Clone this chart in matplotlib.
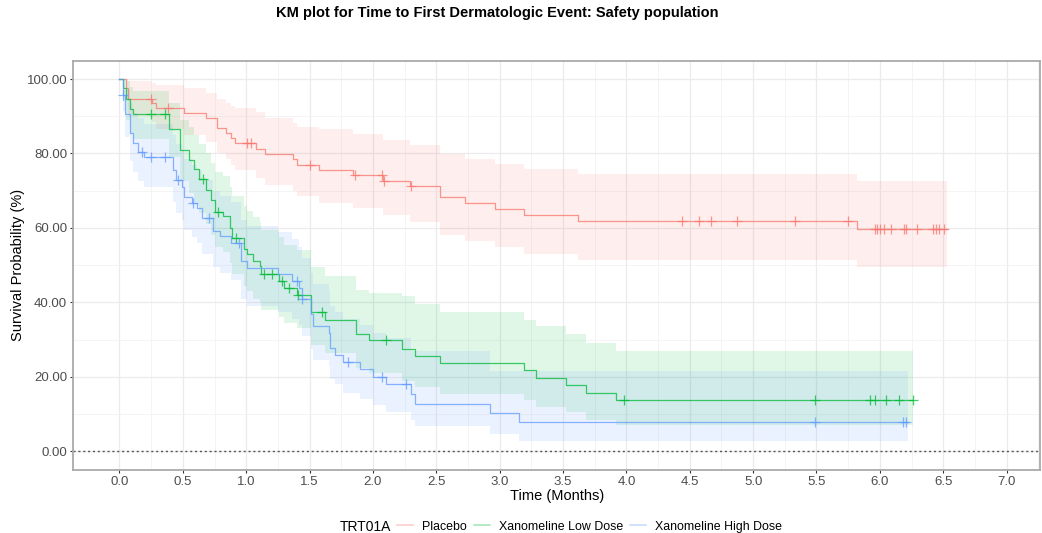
import numpy as np
import matplotlib
matplotlib.use('Agg')
import matplotlib.pyplot as plt
from matplotlib.lines import Line2D

plt.rcParams['font.family'] = ['Liberation Sans', 'DejaVu Sans']

# --- data (time in months, survival in %) ---
groups = ['Placebo', 'Xanomeline Low Dose', 'Xanomeline High Dose']
colors = ['#F8766D', '#00BA38', '#619CFF']

plac_t = [0, 0.05, 0.07, 0.26, 0.29, 0.51, 0.68, 0.77, 0.84, 0.88, 0.91, 1.08, 1.145,
          1.37, 1.40, 1.574, 1.84, 2.08, 2.29, 2.53, 2.73, 2.96, 3.19, 3.62, 5.82]
plac_s = [100, 97.7, 94.7, 93.6, 92.2, 91.0, 89.4, 86.8, 85.4, 84.1, 82.8, 81.3, 79.9,
          78.5, 76.9, 75.6, 74.3, 72.6, 71.2, 68.2, 66.7, 65.1, 63.5, 61.9, 59.8]
plac_lo = [100, 94.5, 90, 88.5, 86.5, 85, 83, 80, 78.5, 77, 75.5, 73.5, 71.5,
           70, 68.5, 66.7, 65.3, 63.4, 61.5, 58.0, 56.4, 54.8, 53.1, 51.5, 49.5]
plac_hi = [100, 100, 99.5, 98.8, 98.3, 97.5, 96.3, 94.5, 93.6, 92.8, 92.1, 91.2, 89.6,
           88.3, 87.2, 86.5, 85.2, 83.6, 82.3, 79.8, 78.6, 77.2, 75.9, 74.4, 72.7]
plac_cens = [0.25, 0.38, 1.01, 1.04, 1.50, 1.86, 2.07, 2.09, 2.30, 4.44, 4.57, 4.67, 4.87,
             5.33, 5.75, 5.96, 5.98, 6.00, 6.03, 6.09, 6.19, 6.21, 6.29, 6.42, 6.44, 6.47, 6.51]
plac_end = 6.53

low_t = [0, 0.03, 0.05, 0.085, 0.105, 0.39, 0.48, 0.55, 0.59, 0.63, 0.68, 0.72, 0.75,
         0.82, 0.87, 0.89, 0.98, 1.01, 1.05, 1.11, 1.12, 1.26, 1.30, 1.40, 1.51, 1.62,
         1.87, 1.97, 2.23, 2.33, 2.53, 3.19, 3.29, 3.52, 3.68, 3.92]
low_s = [100, 97.6, 94.7, 91.9, 90.5, 86.5, 80.9, 78.2, 75.8, 73.1, 70.2, 67.4, 64.4,
         63.1, 60.0, 57.3, 54.3, 53.0, 51.0, 49.7, 47.5, 45.7, 43.9, 42.1, 37.5, 35.2,
         31.5, 29.8, 27.6, 25.7, 23.6, 21.8, 19.7, 17.9, 15.7, 13.9]
low_hi = [100, 100, 99.5, 97.8, 96.8, 93.5, 89, 87, 85, 82.5, 80, 77.5, 75,
          74, 71, 68.5, 66, 64.5, 63, 61.5, 59.5, 57.5, 55.5, 54, 49.5, 47,
          43.4, 42.5, 41.6, 39.7, 37.5, 35.4, 33.6, 31.4, 29.1, 26.9]
low_lo = [100, 94, 89, 85.5, 84, 79, 72.5, 69.5, 67, 64, 61, 58, 55,
          53.5, 50.5, 47.5, 44.5, 43, 41, 40, 38, 36, 34.5, 33, 28.5, 26.5,
          22.5, 21, 19, 17.2, 15.3, 13.8, 12, 10.5, 8.5, 7.2]
low_cens = [0.25, 0.36, 0.66, 0.78, 0.92, 1.14, 1.20, 1.28, 1.34, 1.41, 1.60, 2.10,
            3.98, 5.49, 5.92, 5.96, 6.05, 6.15, 6.26]
low_end = 6.26

high_t = [0, 0.026, 0.047, 0.085, 0.11, 0.15, 0.19, 0.42, 0.45, 0.49, 0.51, 0.57, 0.61,
          0.65, 0.74, 0.79, 0.88, 0.96, 1.01, 1.25, 1.36, 1.42, 1.44, 1.51, 1.53, 1.65,
          1.66, 1.70, 1.76, 1.90, 2.00, 2.10, 2.30, 2.33, 2.92, 3.15]
high_s = [100, 95.8, 90.7, 85.6, 82.7, 80.4, 79.0, 75.5, 72.8, 71.0, 68.4, 66.7, 65.3,
          62.6, 59.1, 57.7, 55.9, 51.0, 49.2, 47.5, 45.7, 43.9, 40.8, 37.0, 33.6, 31.8,
          27.8, 26.0, 23.9, 22.2, 20.0, 18.0, 15.3, 12.8, 10.4, 7.9]
high_hi = [100, 100, 97, 93.5, 91, 89.5, 88, 85, 82.5, 81, 78.5, 77, 75.5,
           73, 70, 68.5, 67, 62, 60.5, 59, 57, 55, 52, 48, 45, 43,
           39, 37.5, 35.5, 34, 31.8, 30.5, 27, 26.9, 21.5, 21.5]
high_lo = [100, 91.5, 84.5, 78, 75, 72.5, 71, 67, 64, 62, 59.5, 57.5, 56,
           53, 49.5, 48, 46, 41, 39, 37.5, 35.5, 34, 31, 27.5, 24.5, 23,
           19.5, 18, 15.7, 14, 12.5, 10.5, 8.5, 6.8, 4.6, 2.9]
high_cens = [0.03, 0.18, 0.25, 0.36, 0.46, 0.58, 0.71, 0.94, 1.40, 1.44, 1.80, 2.07,
             2.26, 5.49, 6.18, 6.21]
high_end = 6.22

series = [
    (plac_t, plac_s, plac_lo, plac_hi, plac_cens, plac_end),
    (low_t, low_s, low_lo, low_hi, low_cens, low_end),
    (high_t, high_s, high_lo, high_hi, high_cens, high_end),
]

fig = plt.figure(figsize=(10.42, 5.33), dpi=100)
ax = fig.add_axes([0.0705, 0.119, 0.928, 0.767])

for (t, s, lo, hi, cens, end), col in zip(series, colors):
    tt = np.append(t, end)
    ss = np.append(s, s[-1])
    ll = np.append(lo, lo[-1])
    hh = np.append(hi, hi[-1])
    ax.fill_between(tt, ll, hh, step='post', color=col, alpha=0.12, linewidth=0)
    ax.step(tt, ss, where='post', color=col, alpha=0.75, linewidth=0.9)
    idx = np.searchsorted(t, cens, side='right') - 1
    ax.plot(cens, np.array(s)[idx], linestyle='none', marker='+', markersize=6.5,
            markeredgewidth=0.9, color=col, alpha=0.75)

ax.axhline(0, color='#555555', linestyle=(0, (1.5, 2)), linewidth=1.0)

ax.set_xlim(-0.363, 7.267)
ax.set_ylim(-4.9, 104.9)
ax.set_xticks(np.arange(0, 7.01, 0.5))
ax.set_xticklabels([f'{v:.1f}' for v in np.arange(0, 7.01, 0.5)])
ax.set_xticks(np.arange(0.25, 7.3, 0.5), minor=True)
ax.set_yticks(np.arange(0, 101, 20))
ax.set_yticklabels([f'{v:.2f}' for v in np.arange(0, 101, 20)])
ax.set_yticks(np.arange(10, 101, 20), minor=True)
ax.grid(which='major', color='#EBEBEB', linewidth=0.9)
ax.grid(which='minor', color='#F2F2F2', linewidth=0.6)
ax.set_axisbelow(True)
ax.tick_params(which='major', length=2.5, pad=2, color='#333333', labelcolor='#4D4D4D',
               labelsize=9.5, width=0.8)
ax.tick_params(which='minor', length=0)
for sp in ax.spines.values():
    sp.set_color('#AAAAAA')
    sp.set_linewidth(1.3)

ax.set_xlabel('Time (Months)', fontsize=10.5, labelpad=1)
ax.set_ylabel('Survival Probability (%)', fontsize=10.5, labelpad=1)

fig.suptitle('KM plot for Time to First Dermatologic Event: Safety population',
             x=0.477, fontsize=10.5, fontweight='bold', y=0.988)

fig.text(0.326, 0.012, 'TRT01A', fontsize=10, va='center', ha='left')
handles = [Line2D([], [], color=c, alpha=0.35, linewidth=1.2) for c in colors]
fig.legend(handles, groups, loc='center left', bbox_to_anchor=(0.381, 0.012),
           ncol=3, frameon=False, fontsize=8.9, handlelength=1.3, handletextpad=0.7,
           columnspacing=0.6, borderaxespad=0, borderpad=0)

plt.savefig('out.png', dpi=100)
